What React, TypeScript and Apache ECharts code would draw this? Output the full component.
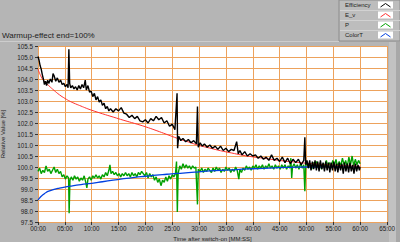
import React, { useEffect, useRef } from "react";
import * as echarts from "echarts";

const titleText = "Warmup-effect end=100%";
const seriesNames = ["Efficiency", "E_v", "P", "ColorT"];
const seriesColors = ["#000000", "#ff3030", "#00a000", "#0040e0"];
const xAxisName = "Time after switch-on [MM:SS]";
const yAxisName = "Relative Value [%]";

const efficiency: number[][] = [
  [0.0, 105.02], [0.2, 104.85], [0.4, 104.6], [0.6, 104.45], [0.8, 104.2], [1.0, 104.0],
  [1.2, 103.75], [1.4, 103.9], [1.6, 103.7], [1.8, 103.95], [2.0, 103.8], [2.3, 104.0],
  [2.6, 103.85], [2.8, 104.25], [3.0, 104.15], [3.3, 103.9], [3.6, 104.05], [3.9, 103.85],
  [4.2, 103.95], [4.5, 103.75], [4.8, 103.8], [5.1, 103.65], [5.4, 103.75], [5.6, 103.6],
  [5.75, 105.35], [5.9, 103.8], [6.1, 103.6], [6.4, 103.7], [6.7, 103.55], [7.0, 103.65],
  [7.3, 103.5], [7.6, 103.7], [7.9, 103.55], [8.2, 103.75], [8.5, 103.6], [8.8, 103.95],
  [9.0, 103.5], [9.3, 103.7], [9.6, 103.4], [9.9, 103.45], [10.2, 103.2], [10.5, 103.35],
  [10.8, 103.05], [11.1, 103.2], [11.4, 102.95], [11.7, 103.05], [12.0, 102.8], [12.3, 102.9],
  [12.6, 102.65], [12.9, 102.75], [13.2, 102.55], [13.5, 102.65], [14.0, 102.5], [14.5, 102.65],
  [15.0, 102.55], [15.5, 102.7], [16.0, 102.45], [16.5, 102.4], [17.0, 102.25], [17.5, 102.35],
  [18.0, 102.2], [18.5, 102.3], [19.0, 102.1], [19.5, 102.05], [20.0, 102.15], [20.5, 102.0],
  [21.0, 102.2], [21.5, 102.1], [22.0, 102.3], [22.5, 102.15], [23.0, 102.25], [23.5, 102.0],
  [24.0, 102.1], [24.5, 101.85], [25.0, 101.95], [25.5, 101.7], [25.9, 103.35], [26.0, 100.85],
  [26.2, 101.4], [26.6, 101.2], [27.0, 101.3], [27.5, 101.15], [28.0, 101.25], [28.5, 101.1],
  [29.0, 101.2], [29.5, 101.05], [29.7, 102.75], [29.85, 100.9], [30.2, 101.1], [30.6, 100.95],
  [31.0, 101.05], [31.5, 100.9], [32.0, 101.0], [32.5, 100.85], [33.0, 100.95], [33.5, 100.8],
  [34.0, 100.95], [34.5, 100.75], [35.0, 100.85], [35.5, 100.7], [36.0, 100.8], [36.5, 100.75],
  [37.0, 101.15], [37.3, 100.6], [37.6, 100.75], [38.0, 100.55], [38.5, 100.7], [39.0, 100.5],
  [39.5, 100.6], [40.0, 100.5], [40.5, 100.55], [41.0, 100.4], [41.5, 100.5], [42.0, 100.35],
  [42.5, 100.45], [43.0, 100.3], [43.5, 100.55], [44.0, 100.3], [44.5, 100.4], [45.0, 100.25],
  [45.5, 100.45], [46.0, 100.2], [46.5, 100.4], [47.0, 100.15], [47.5, 100.35], [48.0, 100.2],
  [48.5, 100.35], [49.0, 100.1], [49.5, 100.3], [49.7, 101.35], [49.85, 100.1], [50.1, 100.3],
  [50.35, 99.95], [50.6, 100.3], [50.85, 99.85], [51.1, 100.25], [51.35, 99.9], [51.6, 100.3],
  [51.85, 99.85], [52.1, 100.25], [52.35, 99.8], [52.6, 100.3], [52.85, 99.9], [53.1, 100.2],
  [53.35, 99.8], [53.6, 100.25], [53.85, 99.85], [54.1, 100.2], [54.35, 99.75], [54.6, 100.2],
  [54.85, 99.85], [55.1, 100.25], [55.35, 99.8], [55.6, 100.15], [55.85, 99.75], [56.1, 100.2],
  [56.35, 99.85], [56.6, 100.15], [56.85, 99.7], [57.1, 100.2], [57.35, 99.8], [57.6, 100.15],
  [57.85, 99.75], [58.1, 100.2], [58.35, 99.8], [58.6, 100.1], [58.85, 99.7], [59.1, 100.15],
  [59.35, 99.8], [59.6, 100.1], [59.85, 99.85], [60.0, 100.0],
];

const eV: number[][] = [
  [0, 104.45], [0.5, 104.15], [1, 103.95], [2, 103.7], [3, 103.48], [4, 103.28], [5, 103.12],
  [6, 102.98], [7, 102.87], [8, 102.77], [9, 102.67], [10, 102.58], [12, 102.42], [14, 102.27],
  [16, 102.12], [18, 101.98], [20, 101.83], [22, 101.66], [24, 101.48], [26, 101.3], [28, 101.14],
  [30, 100.98], [32, 100.86], [34, 100.74], [36, 100.64], [38, 100.54], [40, 100.46], [42, 100.4],
  [44, 100.33], [46, 100.27], [48, 100.22], [50, 100.17], [52, 100.13], [54, 100.1], [56, 100.07],
  [58, 100.05], [60, 100.03],
];

const power: number[][] = [
  [0, 99.8], [0.3, 99.95], [0.6, 99.7], [0.9, 99.85], [1.2, 99.75], [1.5, 100.05], [1.8, 99.8],
  [2.1, 99.9], [2.4, 99.7], [2.7, 99.85], [3.0, 100.0], [3.3, 99.75], [3.6, 99.9], [3.9, 99.7],
  [4.2, 99.8], [4.5, 99.55], [4.8, 99.65], [5.1, 99.45], [5.4, 99.6], [5.7, 99.5], [5.8, 97.9],
  [5.95, 99.4], [6.2, 99.55], [6.5, 99.4], [6.8, 99.6], [7.1, 99.45], [7.4, 99.55], [7.7, 99.35],
  [8.0, 99.5], [8.3, 99.4], [8.6, 99.6], [8.9, 99.3], [9.1, 99.05], [9.3, 99.45], [9.6, 99.55],
  [9.9, 99.4], [10.2, 99.6], [10.5, 99.5], [10.8, 99.65], [11.1, 99.5], [11.4, 99.6], [11.7, 99.45],
  [12.0, 99.65], [12.3, 99.55], [12.6, 99.75], [12.9, 99.6], [13.2, 99.85], [13.4, 100.1],
  [13.6, 99.7], [13.9, 99.8], [14.2, 99.65], [14.5, 99.75], [14.8, 99.6], [15.1, 99.7],
  [15.4, 99.55], [15.7, 99.7], [16.0, 99.6], [16.3, 99.75], [16.6, 99.6], [16.9, 99.7],
  [17.2, 99.55], [17.5, 99.75], [17.8, 99.6], [18.1, 99.7], [18.4, 99.55], [18.7, 99.75],
  [19.0, 99.65], [19.3, 99.8], [19.6, 99.7], [19.9, 99.6], [20.2, 99.75], [20.5, 99.5],
  [20.8, 99.7], [21.1, 99.55], [21.4, 99.65], [21.7, 99.4], [22.0, 99.55], [22.3, 99.3],
  [22.6, 99.45], [22.9, 99.15], [23.2, 99.4], [23.5, 99.3], [23.8, 99.55], [24.1, 99.35],
  [24.4, 99.6], [24.7, 99.45], [25.0, 99.65], [25.3, 99.55], [25.6, 99.7], [25.8, 100.25],
  [25.95, 97.95], [26.1, 99.7], [26.4, 100.05], [26.7, 99.9], [27.0, 100.15], [27.3, 99.95],
  [27.6, 100.1], [27.9, 99.95], [28.2, 100.05], [28.5, 99.9], [28.8, 100.05], [29.1, 99.95],
  [29.4, 100.0], [29.7, 98.3], [29.85, 99.9], [30.2, 99.8], [30.5, 99.95], [30.8, 99.75],
  [31.1, 99.9], [31.4, 99.8], [31.7, 99.95], [32.0, 99.85], [32.3, 99.75], [32.6, 99.95],
  [32.9, 99.8], [33.2, 100.0], [33.5, 99.85], [33.8, 99.95], [34.1, 99.75], [34.4, 99.9],
  [34.7, 99.8], [35.0, 100.0], [35.3, 99.85], [35.6, 99.95], [35.9, 99.75], [36.2, 99.9],
  [36.5, 99.8], [36.8, 100.0], [37.1, 99.85], [37.4, 99.45], [37.6, 99.9], [37.9, 99.75],
  [38.2, 99.95], [38.5, 99.85], [38.8, 100.05], [39.1, 99.9], [39.4, 100.0], [39.7, 99.85],
  [40.0, 100.05], [40.3, 99.95], [40.6, 100.1], [40.9, 99.9], [41.2, 100.05], [41.5, 99.95],
  [41.8, 100.1], [42.1, 99.9], [42.4, 100.05], [42.7, 99.95], [43.0, 100.15], [43.3, 99.95],
  [43.6, 100.05], [43.9, 99.9], [44.2, 100.1], [44.5, 99.95], [44.8, 100.05], [45.1, 99.9],
  [45.4, 100.1], [45.7, 99.95], [46.0, 100.1], [46.3, 99.9], [46.6, 100.05], [46.9, 99.95],
  [47.1, 100.4], [47.25, 99.5], [47.4, 100.0], [47.7, 100.15], [48.0, 99.95], [48.3, 100.1],
  [48.6, 99.9], [48.9, 100.15], [49.2, 99.95], [49.5, 100.1], [49.7, 98.9], [49.85, 100.05],
  [50.1, 100.2], [50.4, 99.95], [50.7, 100.15], [51.0, 99.9], [51.3, 100.2], [51.6, 100.0],
  [51.9, 100.25], [52.2, 99.95], [52.5, 100.2], [52.8, 99.9], [53.1, 100.15], [53.4, 100.05],
  [53.7, 100.3], [54.0, 100.0], [54.3, 100.2], [54.6, 99.95], [54.9, 100.3], [55.2, 100.05],
  [55.5, 100.35], [55.8, 100.0], [56.1, 100.25], [56.4, 100.05], [56.7, 100.4], [57.0, 100.1],
  [57.3, 100.3], [57.6, 100.0], [57.9, 100.45], [58.2, 100.1], [58.5, 100.5], [58.8, 100.05],
  [59.1, 100.35], [59.4, 100.1], [59.7, 100.3], [60.0, 100.15],
];

const colorT: number[][] = [
  [0, 98.5], [0.5, 98.65], [1, 98.75], [1.5, 98.84], [2, 98.9], [3, 98.98], [4, 99.04],
  [5, 99.09], [6, 99.13], [8, 99.2], [10, 99.26], [12, 99.33], [14, 99.4], [16, 99.47],
  [18, 99.53], [20, 99.58], [22, 99.63], [24, 99.67], [26, 99.71], [28, 99.74], [30, 99.78],
  [32, 99.82], [34, 99.85], [36, 99.87], [38, 99.9], [40, 99.92], [42, 99.94], [44, 99.96],
  [46, 99.98], [48, 99.99], [50, 100.0], [52, 100.0], [55, 100.01], [58, 100.01], [60, 100.01],
];

const FONT = "Liberation Sans, Arial, sans-serif";

export default function App() {
  const ref = useRef<HTMLDivElement>(null);
  useEffect(() => {
    if (!ref.current) return;
    const chart = echarts.init(ref.current, undefined, { renderer: "svg" });
    const legendX = 339;
    const legendGraphics: any[] = [
      {
        type: "rect",
        shape: { x: legendX, y: 0, width: 61, height: 41 },
        style: { fill: "#bdbdbd", stroke: "#8c8c8c", lineWidth: 1 },
        z: 10,
      },
    ];
    seriesNames.forEach((name, i) => {
      const top = i * 10;
      if (i > 0) {
        legendGraphics.push({
          type: "line",
          shape: { x1: legendX + 1, y1: top + 0.5, x2: 400, y2: top + 0.5 },
          style: { stroke: "#d2d2d2", lineWidth: 1 },
          z: 11,
        });
      }
      legendGraphics.push({
        type: "text",
        x: legendX + 6,
        y: top + 5,
        style: {
          text: name,
          fontSize: 6,
          fontFamily: FONT,
          fill: "#222",
          verticalAlign: "middle",
        },
        z: 12,
      });
      legendGraphics.push({
        type: "rect",
        shape: { x: 378, y: top + 1.5, width: 15, height: 7 },
        style: { fill: "#ffffff" },
        z: 12,
      });
      legendGraphics.push({
        type: "polyline",
        shape: {
          points: [
            [380.5, top + 7],
            [385.5, top + 3.5],
            [390.5, top + 7],
          ],
        },
        style: { stroke: seriesColors[i], lineWidth: 1, fill: "none" },
        z: 13,
      });
    });

    const axisLabelBase = { fontSize: 6.3, color: "#222", fontFamily: FONT };
    chart.setOption({
      animation: false,
      backgroundColor: "#b5b5b5",
      textStyle: { fontFamily: FONT },
      grid: {
        left: 38,
        right: 13,
        top: 46,
        bottom: 20,
        show: true,
        backgroundColor: "#ffffff",
        borderWidth: 0,
        containLabel: false,
        outerBoundsMode: "none",
      },
      xAxis: {
        type: "value",
        min: 0,
        max: 65,
        interval: 5,
        name: xAxisName,
        nameLocation: "middle",
        nameGap: 11,
        nameTextStyle: { fontSize: 6, color: "#222", fontFamily: FONT },
        axisLine: { show: false },
        axisTick: { show: true, length: 3, lineStyle: { color: "#333" } },
        axisLabel: {
          ...axisLabelBase,
          margin: 3,
          formatter: (v: number) => String(v).padStart(2, "0") + ":00",
        },
        splitLine: { show: true, lineStyle: { color: "#eda25c", width: 1 } },
      },
      yAxis: {
        type: "value",
        min: 97.5,
        max: 105.5,
        interval: 0.5,
        name: yAxisName,
        nameLocation: "middle",
        nameGap: 23,
        nameTextStyle: { fontSize: 6, color: "#222", fontFamily: FONT },
        axisLine: { show: false },
        axisTick: { show: true, length: 3, lineStyle: { color: "#333" } },
        axisLabel: {
          ...axisLabelBase,
          margin: 5,
          formatter: (v: number) => v.toFixed(1),
        },
        splitLine: { show: true, lineStyle: { color: "#eda25c", width: 1 } },
      },
      graphic: [
        {
          type: "rect",
          shape: { x: 0, y: 41, width: 339, height: 1 },
          style: { fill: "#cdcdcd" },
        },
        {
          type: "rect",
          shape: { x: 389, y: 42, width: 11, height: 200 },
          style: { fill: "#c2c2c2" },
        },
        {
          type: "rect",
          shape: { x: 396, y: 42, width: 4, height: 200 },
          style: { fill: "#a8a8a8" },
        },
        {
          type: "text",
          x: 2,
          y: 31,
          style: { text: titleText, fontSize: 8, fontFamily: FONT, fill: "#222" },
        },
        ...legendGraphics,
      ],
      series: [
        {
          name: seriesNames[2],
          type: "line",
          data: power,
          showSymbol: false,
          lineStyle: { color: seriesColors[2], width: 1.4 },
          z: 2,
        },
        {
          name: seriesNames[3],
          type: "line",
          data: colorT,
          showSymbol: false,
          smooth: true,
          lineStyle: { color: seriesColors[3], width: 1.3 },
          z: 3,
        },
        {
          name: seriesNames[1],
          type: "line",
          data: eV,
          showSymbol: false,
          smooth: true,
          lineStyle: { color: seriesColors[1], width: 1 },
          z: 4,
        },
        {
          name: seriesNames[0],
          type: "line",
          data: efficiency,
          showSymbol: false,
          lineStyle: { color: seriesColors[0], width: 1.4 },
          z: 5,
        },
      ],
    });
    return () => chart.dispose();
  }, []);
  return (
    <div
      ref={ref}
      style={{ position: "fixed", left: 0, top: 0, width: 400, height: 242 }}
    />
  );
}
